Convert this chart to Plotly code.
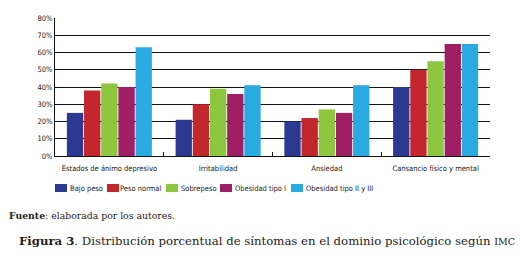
import plotly.graph_objects as go

categories = ["Estados de ánimo depresivo", "Irritabilidad", "Ansiedad", "Cansancio físico y mental"]
series_names = ["Bajo peso", "Peso normal", "Sobrepeso", "Obesidad tipo I", "Obesidad tipo II y III"]
bajo_peso = [25, 21, 20, 40]
peso_normal = [38, 30, 22, 50]
sobrepeso = [42, 39, 27, 55]
obesidad_1 = [40, 36, 25, 65]
obesidad_2_3 = [63, 41, 41, 65]
tick_vals = [0, 10, 20, 30, 40, 50, 60, 70, 80]
tick_text = ["0%", "10%", "20%", "30%", "40%", "50%", "60%", "70%", "80%"]

colors = ["#2B3990", "#C1272D", "#8DC63F", "#9E1F63", "#29ABE2"]
series_values = [bajo_peso, peso_normal, sobrepeso, obesidad_1, obesidad_2_3]

W, H = 522, 259
ML, MR, MT, MB = 55, 32, 18, 103
PW, PH = W - ML - MR, H - MT - MB

def py(ypx):
    return (H - MB - ypx) / PH

def px(xpx):
    return (xpx - ML) / PW

sans = "DejaVu Sans Condensed, Roboto, sans-serif"
serif = "DejaVu Serif"
small_font = dict(family=sans, size=7.5, color="#222")

fig = go.Figure()
for name, vals, c in zip(series_names, series_values, colors):
    fig.add_trace(go.Bar(name=name, x=categories, y=vals, marker=dict(color=c, line=dict(width=0)),
                         showlegend=False))

fig.update_layout(
    width=W, height=H,
    margin=dict(l=ML, r=MR, t=MT, b=MB),
    paper_bgcolor="white", plot_bgcolor="white",
    barmode="group", bargap=0.21, bargroupgap=0.05,
    font=small_font,
)
fig.update_yaxes(range=[0, 80], tickvals=tick_vals, ticktext=tick_text,
                 showgrid=True, gridcolor="#111", gridwidth=1,
                 showline=True, linecolor="#111", linewidth=1,
                 ticks="", tickfont=small_font, zeroline=False)
fig.update_xaxes(showline=True, linecolor="#111", linewidth=1, ticks="inside", ticklen=4,
                 tickson="boundaries", tickcolor="#111", tickangle=0,
                 ticklabelstandoff=5, tickfont=small_font)

# manual legend (squares + labels)
legend_sq_x = [55, 107, 166, 220, 291]
legend_tx_x = [69, 119, 180, 234, 305]
for name, c, sx, tx in zip(series_names, colors, legend_sq_x, legend_tx_x):
    fig.add_shape(type="rect", xref="paper", yref="paper",
                  x0=px(sx), x1=px(sx + 12), y0=py(192), y1=py(184),
                  fillcolor=c, line=dict(width=0))
    fig.add_annotation(xref="paper", yref="paper", x=px(tx - 1), y=py(188),
                       xanchor="left", yanchor="middle", showarrow=False,
                       text=name, font=small_font)

fig.add_annotation(xref="paper", yref="paper", x=px(7), y=py(215),
                   xanchor="left", yanchor="middle", showarrow=False,
                   text="<b>Fuente</b>: elaborada por los autores.",
                   font=dict(family=serif, size=9.3, color="#222"))
fig.add_annotation(xref="paper", yref="paper", x=px(17), y=py(241),
                   xanchor="left", yanchor="middle", showarrow=False,
                   text="<b>Figura 3</b>. Distribución porcentual de síntomas en el dominio psicológico según <span style='font-size:9.5px'>IMC</span>",
                   font=dict(family=serif, size=11.7, color="#222"))

fig.write_html("out.html", config={"displayModeBar": False},
               post_script="document.body.style.margin='0';document.body.style.overflow='hidden';")
